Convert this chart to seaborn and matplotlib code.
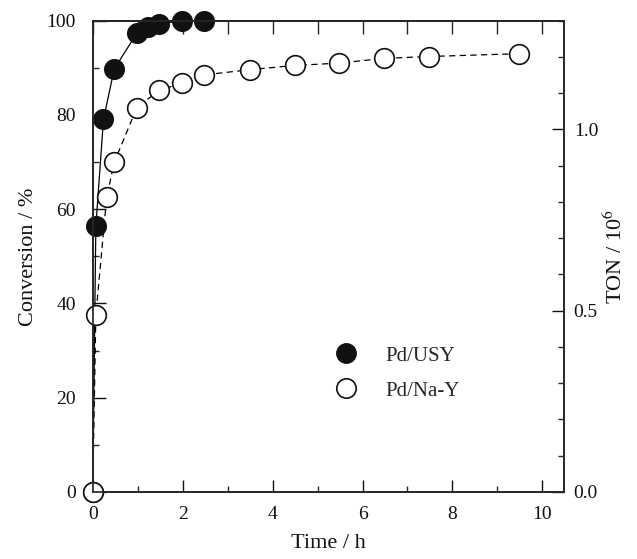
import matplotlib
matplotlib.use("Agg")
import matplotlib.pyplot as plt
from matplotlib.lines import Line2D
from matplotlib.ticker import MultipleLocator
import seaborn as sns
import pandas as pd

# ---- data ----
usy_time = [0.0, 0.07, 0.24, 0.48, 0.98, 1.24, 1.48, 1.98, 2.48]
usy_conv = [0.0, 56.4, 79.1, 89.8, 97.3, 98.6, 99.3, 100.0, 100.0]
nay_time = [0.0, 0.07, 0.31, 0.48, 0.98, 1.48, 1.98, 2.48, 3.49, 4.49, 5.47, 6.47, 7.47, 9.48]
nay_conv = [0.0, 37.5, 62.5, 70.0, 81.5, 85.3, 86.7, 88.5, 89.6, 90.5, 91.0, 92.0, 92.4, 93.0]
series_names = ["Pd/USY", "Pd/Na-Y"]
x_ticks = [0, 2, 4, 6, 8, 10]
left_ticks = [0, 20, 40, 60, 80, 100]
right_ticks = [0.0, 0.5, 1.0]
right_tick_labels = ["0.0", "0.5", "1.0"]

df_usy = pd.DataFrame({"t": usy_time, "c": usy_conv})
df_nay = pd.DataFrame({"t": nay_time, "c": nay_conv})

sns.set_theme(style="ticks")
plt.rcParams["font.family"] = ["Liberation Serif", "DejaVu Serif"]
plt.rcParams["mathtext.fontset"] = "stix"

fig = plt.figure(figsize=(6.37, 5.59), dpi=100)
ax = fig.add_axes([92.7 / 637, 1 - 492 / 559, (564 - 92.7) / 637, (492 - 20.7) / 559])

sns.lineplot(data=df_usy, x="t", y="c", ax=ax, color="black", lw=0.9,
             sort=False, zorder=2)
sns.lineplot(data=df_nay, x="t", y="c", ax=ax, color="black", lw=0.9,
             linestyle=(0, (5, 3.5)), sort=False, zorder=2)
sns.scatterplot(data=df_usy, x="t", y="c", ax=ax, s=200, color="#111111",
                edgecolor="#111111", linewidth=1.0, zorder=3, clip_on=False)
sns.scatterplot(data=df_nay, x="t", y="c", ax=ax, s=200, facecolor="white",
                edgecolor="#111111", linewidth=1.2, zorder=4, clip_on=False)

ax.set_xlim(0, 10.48)
ax.set_ylim(0, 100)
ax.set_xticks(x_ticks)
ax.xaxis.set_minor_locator(MultipleLocator(1))
ax.set_yticks(left_ticks)
ax.yaxis.set_minor_locator(MultipleLocator(10))
ax.tick_params(axis="both", which="major", direction="in", length=9, width=1.0,
               labelsize=14, colors="#111111")
ax.tick_params(axis="both", which="minor", direction="in", length=4.5, width=1.0)
ax.tick_params(axis="x", which="major", pad=10)
ax.tick_params(axis="y", which="major", pad=12)
for sp in ax.spines.values():
    sp.set_linewidth(1.2)
    sp.set_color("#222222")

ax.set_xlabel("Time / h", fontsize=16, labelpad=8, color="#111111")
ax.set_ylabel("Conversion / %", fontsize=16, labelpad=6, color="#111111")

# top ticks
top = ax.secondary_xaxis("top")
top.set_xticks(list(range(0, 11)))
top.tick_params(direction="in", length=9, width=1.0, labeltop=False)
top.spines["top"].set_linewidth(1.2)

# right axis: TON
ax2 = ax.twinx()
ax2.set_ylim(0, 1.3)
ax2.set_yticks(right_ticks)
ax2.set_yticklabels(right_tick_labels)
ax2.yaxis.set_minor_locator(MultipleLocator(0.1))
ax2.tick_params(axis="y", which="major", direction="in", length=9, width=1.0,
                labelsize=14, pad=7, colors="#111111")
ax2.tick_params(axis="y", which="minor", direction="in", length=4.5, width=1.0)
ax2.spines["right"].set_linewidth(1.2)
ax2.set_ylabel("TON / 10$^6$", fontsize=16, labelpad=4, color="#111111")

# legend
handles = [
    Line2D([], [], marker="o", linestyle="none", markersize=14,
           markerfacecolor="#111111", markeredgecolor="#111111", markeredgewidth=1.0),
    Line2D([], [], marker="o", linestyle="none", markersize=14,
           markerfacecolor="white", markeredgecolor="#111111", markeredgewidth=1.2),
]
leg = ax.legend(handles, series_names, loc="upper left",
                bbox_to_anchor=(331 / 637, 1 - 346 / 559), bbox_transform=fig.transFigure,
                frameon=False, fontsize=15, handlelength=1.4, handletextpad=1.2,
                labelspacing=0.75, borderpad=0, borderaxespad=0)

fig.savefig("out.png", dpi=100)
